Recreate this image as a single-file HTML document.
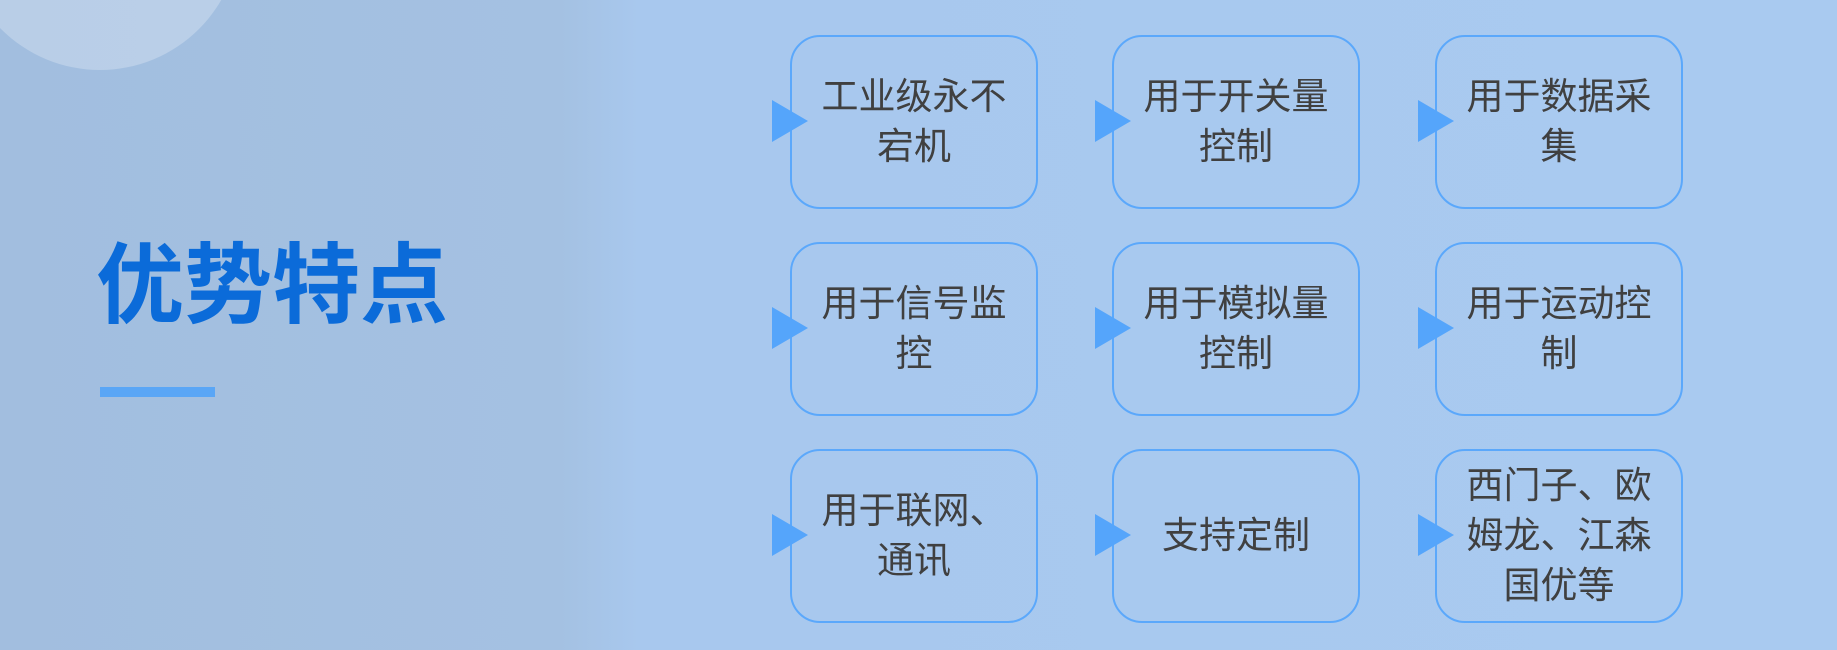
<!DOCTYPE html>
<html><head><meta charset="utf-8"><style>
html,body{margin:0;padding:0}
body{width:1837px;height:650px;overflow:hidden;position:relative;
background:linear-gradient(90deg,#a2bedf 0px,#a4c1e2 560px,#a8c8ee 640px,#a9caf0 1837px);
font-family:"Liberation Sans","Noto Sans CJK SC",sans-serif}
.circ{position:absolute;left:-40px;top:-210px;width:280px;height:280px;border-radius:50%;background:rgba(255,255,255,0.25)}
.title{position:absolute;left:96px;top:236px;font-size:88px;font-weight:bold;color:#0b6bd9;letter-spacing:0px;line-height:100px}
.bar{position:absolute;left:100px;top:387px;width:115px;height:10px;background:#5aa6f6}
.box{position:absolute;width:244px;height:170px;border:2px solid #5ba8fb;border-radius:30px;box-sizing:content-box;
display:flex;align-items:center;justify-content:center;text-align:center;color:#404040;font-size:37px;line-height:50px}
.box span{width:200px}
.tri{position:absolute;width:0;height:0;border-top:21px solid transparent;border-bottom:21px solid transparent;border-left:36px solid #55a5fb}
</style></head><body>
<div class="circ"></div>
<div class="title">优势特点</div>
<div class="bar"></div>

<div class="box" style="left:790px;top:35px"><span>工业级永不宕机</span></div>
<div class="box" style="left:1112px;top:35px"><span>用于开关量控制</span></div>
<div class="box" style="left:1435px;top:35px"><span>用于数据采集</span></div>
<div class="box" style="left:790px;top:242px"><span>用于信号监控</span></div>
<div class="box" style="left:1112px;top:242px"><span>用于模拟量控制</span></div>
<div class="box" style="left:1435px;top:242px"><span>用于运动控制</span></div>
<div class="box" style="left:790px;top:449px"><span>用于联网、通讯</span></div>
<div class="box" style="left:1112px;top:449px"><span>支持定制</span></div>
<div class="box" style="left:1435px;top:449px"><span>西门子、欧姆龙、江森国优等</span></div>

<div class="tri" style="left:772px;top:100px"></div>
<div class="tri" style="left:1095px;top:100px"></div>
<div class="tri" style="left:1418px;top:100px"></div>
<div class="tri" style="left:772px;top:307px"></div>
<div class="tri" style="left:1095px;top:307px"></div>
<div class="tri" style="left:1418px;top:307px"></div>
<div class="tri" style="left:772px;top:514px"></div>
<div class="tri" style="left:1095px;top:514px"></div>
<div class="tri" style="left:1418px;top:514px"></div>
</body></html>
